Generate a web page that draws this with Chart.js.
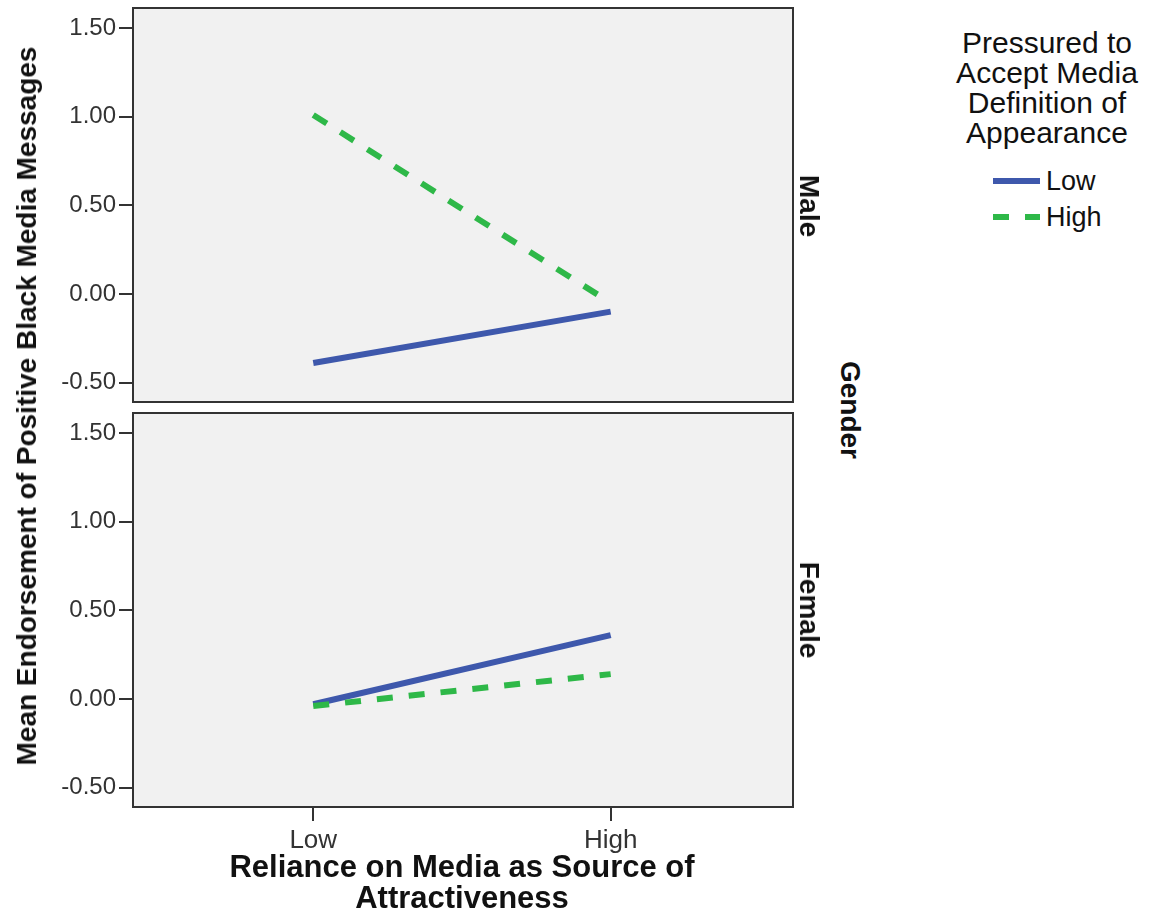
<!DOCTYPE html>
<html>
<head>
<meta charset="utf-8">
<script src="https://cdn.jsdelivr.net/npm/chart.js@4/dist/chart.umd.min.js"></script>
<style>
  html, body { margin: 0; padding: 0; background: #fff; }
  #page { position: relative; width: 1159px; height: 916px; overflow: hidden;
          font-family: "Liberation Sans", Arial, sans-serif; }
  canvas { position: absolute; left: 0; }
  .lbl { position: absolute; white-space: nowrap; line-height: 1.15; }
  .key { position: absolute; height: 6px; }
</style>
</head>
<body>
<div id="page">
  <canvas id="maleChart" width="800" height="410" style="top:0"></canvas>
  <canvas id="femaleChart" width="800" height="455" style="top:405px"></canvas>
</div>
<script>
// Reliance levels on the x axis, pressure levels in the legend
const relianceLevels = ["Low", "High"];
const pressureLevels = ["Low", "High"];
const yTicks = [-0.5, 0, 0.5, 1.0, 1.5];

// Mean endorsement per reliance level (Low, High)
const maleLowPressure = [-0.39, -0.10];
const maleHighPressure = [1.01, -0.05];
const femaleLowPressure = [-0.03, 0.36];
const femaleHighPressure = [-0.04, 0.14];

const blue = "#3e58ac";
const green = "#2eb848";
const dashPattern = [16, 16];
const fontFamily = '"Liberation Sans", Arial, sans-serif';

const page = document.getElementById("page");

// grey plot area and dark frame around each panel
const panelFrame = {
  id: "panelFrame",
  beforeDatasetsDraw(chart) {
    const { ctx, chartArea: a } = chart;
    ctx.save();
    ctx.fillStyle = "#f1f1f1";
    ctx.fillRect(a.left, a.top, a.right - a.left, a.bottom - a.top);
    ctx.restore();
  },
  afterDraw(chart) {
    const { ctx, chartArea: a } = chart;
    ctx.save();
    ctx.strokeStyle = "#333";
    ctx.lineWidth = 2;
    ctx.strokeRect(a.left, a.top, a.right - a.left, a.bottom - a.top);
    ctx.restore();
  }
};

function series(label, values, color, dash, order) {
  return {
    label: label,
    data: values.map((v, i) => ({ x: i, y: v })),
    borderColor: color,
    backgroundColor: color,
    borderWidth: 6,
    borderDash: dash,
    borderCapStyle: "butt",
    pointRadius: 0,
    pointHoverRadius: 0,
    fill: false,
    tension: 0,
    order: order
  };
}

function makePanel(id, lowVals, highVals, showX) {
  return new Chart(document.getElementById(id), {
    type: "line",
    data: {
      datasets: [
        series(pressureLevels[0], lowVals, blue, [], 2),
        series(pressureLevels[1], highVals, green, dashPattern, 1)
      ]
    },
    options: {
      responsive: false,
      animation: false,
      events: [],
      layout: { padding: { top: 8, right: 7, bottom: showX ? 0 : 8, left: 0 } },
      plugins: { legend: { display: false }, tooltip: { enabled: false } },
      scales: {
        x: {
          type: "linear",
          min: -0.606,
          max: 1.613,
          display: showX,
          afterBuildTicks: s => { s.ticks = relianceLevels.map((_, i) => ({ value: i })); },
          afterFit: s => { s.height = showX ? 53 : 0; s.paddingLeft = 0; s.paddingRight = 0; },
          grid: { drawOnChartArea: false, drawTicks: true, tickLength: 14, tickColor: "#333", lineWidth: 2 },
          border: { display: false },
          ticks: {
            padding: 4,
            color: "#333",
            font: { family: fontFamily, size: 26 },
            maxRotation: 0,
            callback: v => relianceLevels[v]
          }
        },
        y: {
          type: "linear",
          min: -0.61,
          max: 1.614,
          afterBuildTicks: s => { s.ticks = yTicks.map(v => ({ value: v })); },
          afterFit: s => { s.width = 133; s.paddingTop = 0; s.paddingBottom = 0; },
          grid: { drawOnChartArea: false, drawTicks: true, tickLength: 14, tickColor: "#333", lineWidth: 2 },
          border: { display: false },
          ticks: {
            padding: 3,
            color: "#333",
            font: { family: fontFamily, size: 24 },
            callback: v => v.toFixed(2)
          }
        }
      }
    },
    plugins: [panelFrame]
  });
}

makePanel("maleChart", maleLowPressure, maleHighPressure, false);
makePanel("femaleChart", femaleLowPressure, femaleHighPressure, true);

// text placed around the panels
function addLabel(text, x, y, font, rotate, align) {
  const el = document.createElement("div");
  el.className = "lbl";
  el.textContent = text;
  el.style.left = x + "px";
  el.style.top = y + "px";
  el.style.font = font;
  el.style.color = "#111";
  const shift = align === "left" ? "translate(0, -50%)" : "translate(-50%, -50%)";
  el.style.transform = shift + (rotate ? " rotate(" + rotate + "deg)" : "");
  page.appendChild(el);
  return el;
}

const boldFont = size => "bold " + size + "px " + fontFamily;
const plainFont = size => size + "px " + fontFamily;

addLabel("Mean Endorsement of Positive Black Media Messages", 27, 406, boldFont(28), -90);
addLabel("Reliance on Media as Source of", 462, 867, boldFont(31));
addLabel("Attractiveness", 462, 898, boldFont(31));

addLabel("Male", 809, 206, boldFont(28), 90);
addLabel("Female", 809, 610, boldFont(28), 90);
addLabel("Gender", 850, 410, boldFont(28), 90);

// legend
["Pressured to", "Accept Media", "Definition of", "Appearance"].forEach((line, i) => {
  addLabel(line, 1047, 43 + i * 30, plainFont(30));
});

const keyRows = [
  { label: pressureLevels[0], color: blue, dash: false, y: 181 },
  { label: pressureLevels[1], color: green, dash: true, y: 217 }
];
keyRows.forEach(row => {
  const key = document.createElement("div");
  key.className = "key";
  key.style.left = "993px";
  key.style.top = (row.y - 3) + "px";
  key.style.width = "47px";
  key.style.background = row.dash
    ? "linear-gradient(to right, " + row.color + " 0 16px, transparent 16px 32px, " + row.color + " 32px)"
    : row.color;
  page.appendChild(key);
  addLabel(row.label, 1046, row.y, plainFont(27), 0, "left");
});
</script>
</body>
</html>
